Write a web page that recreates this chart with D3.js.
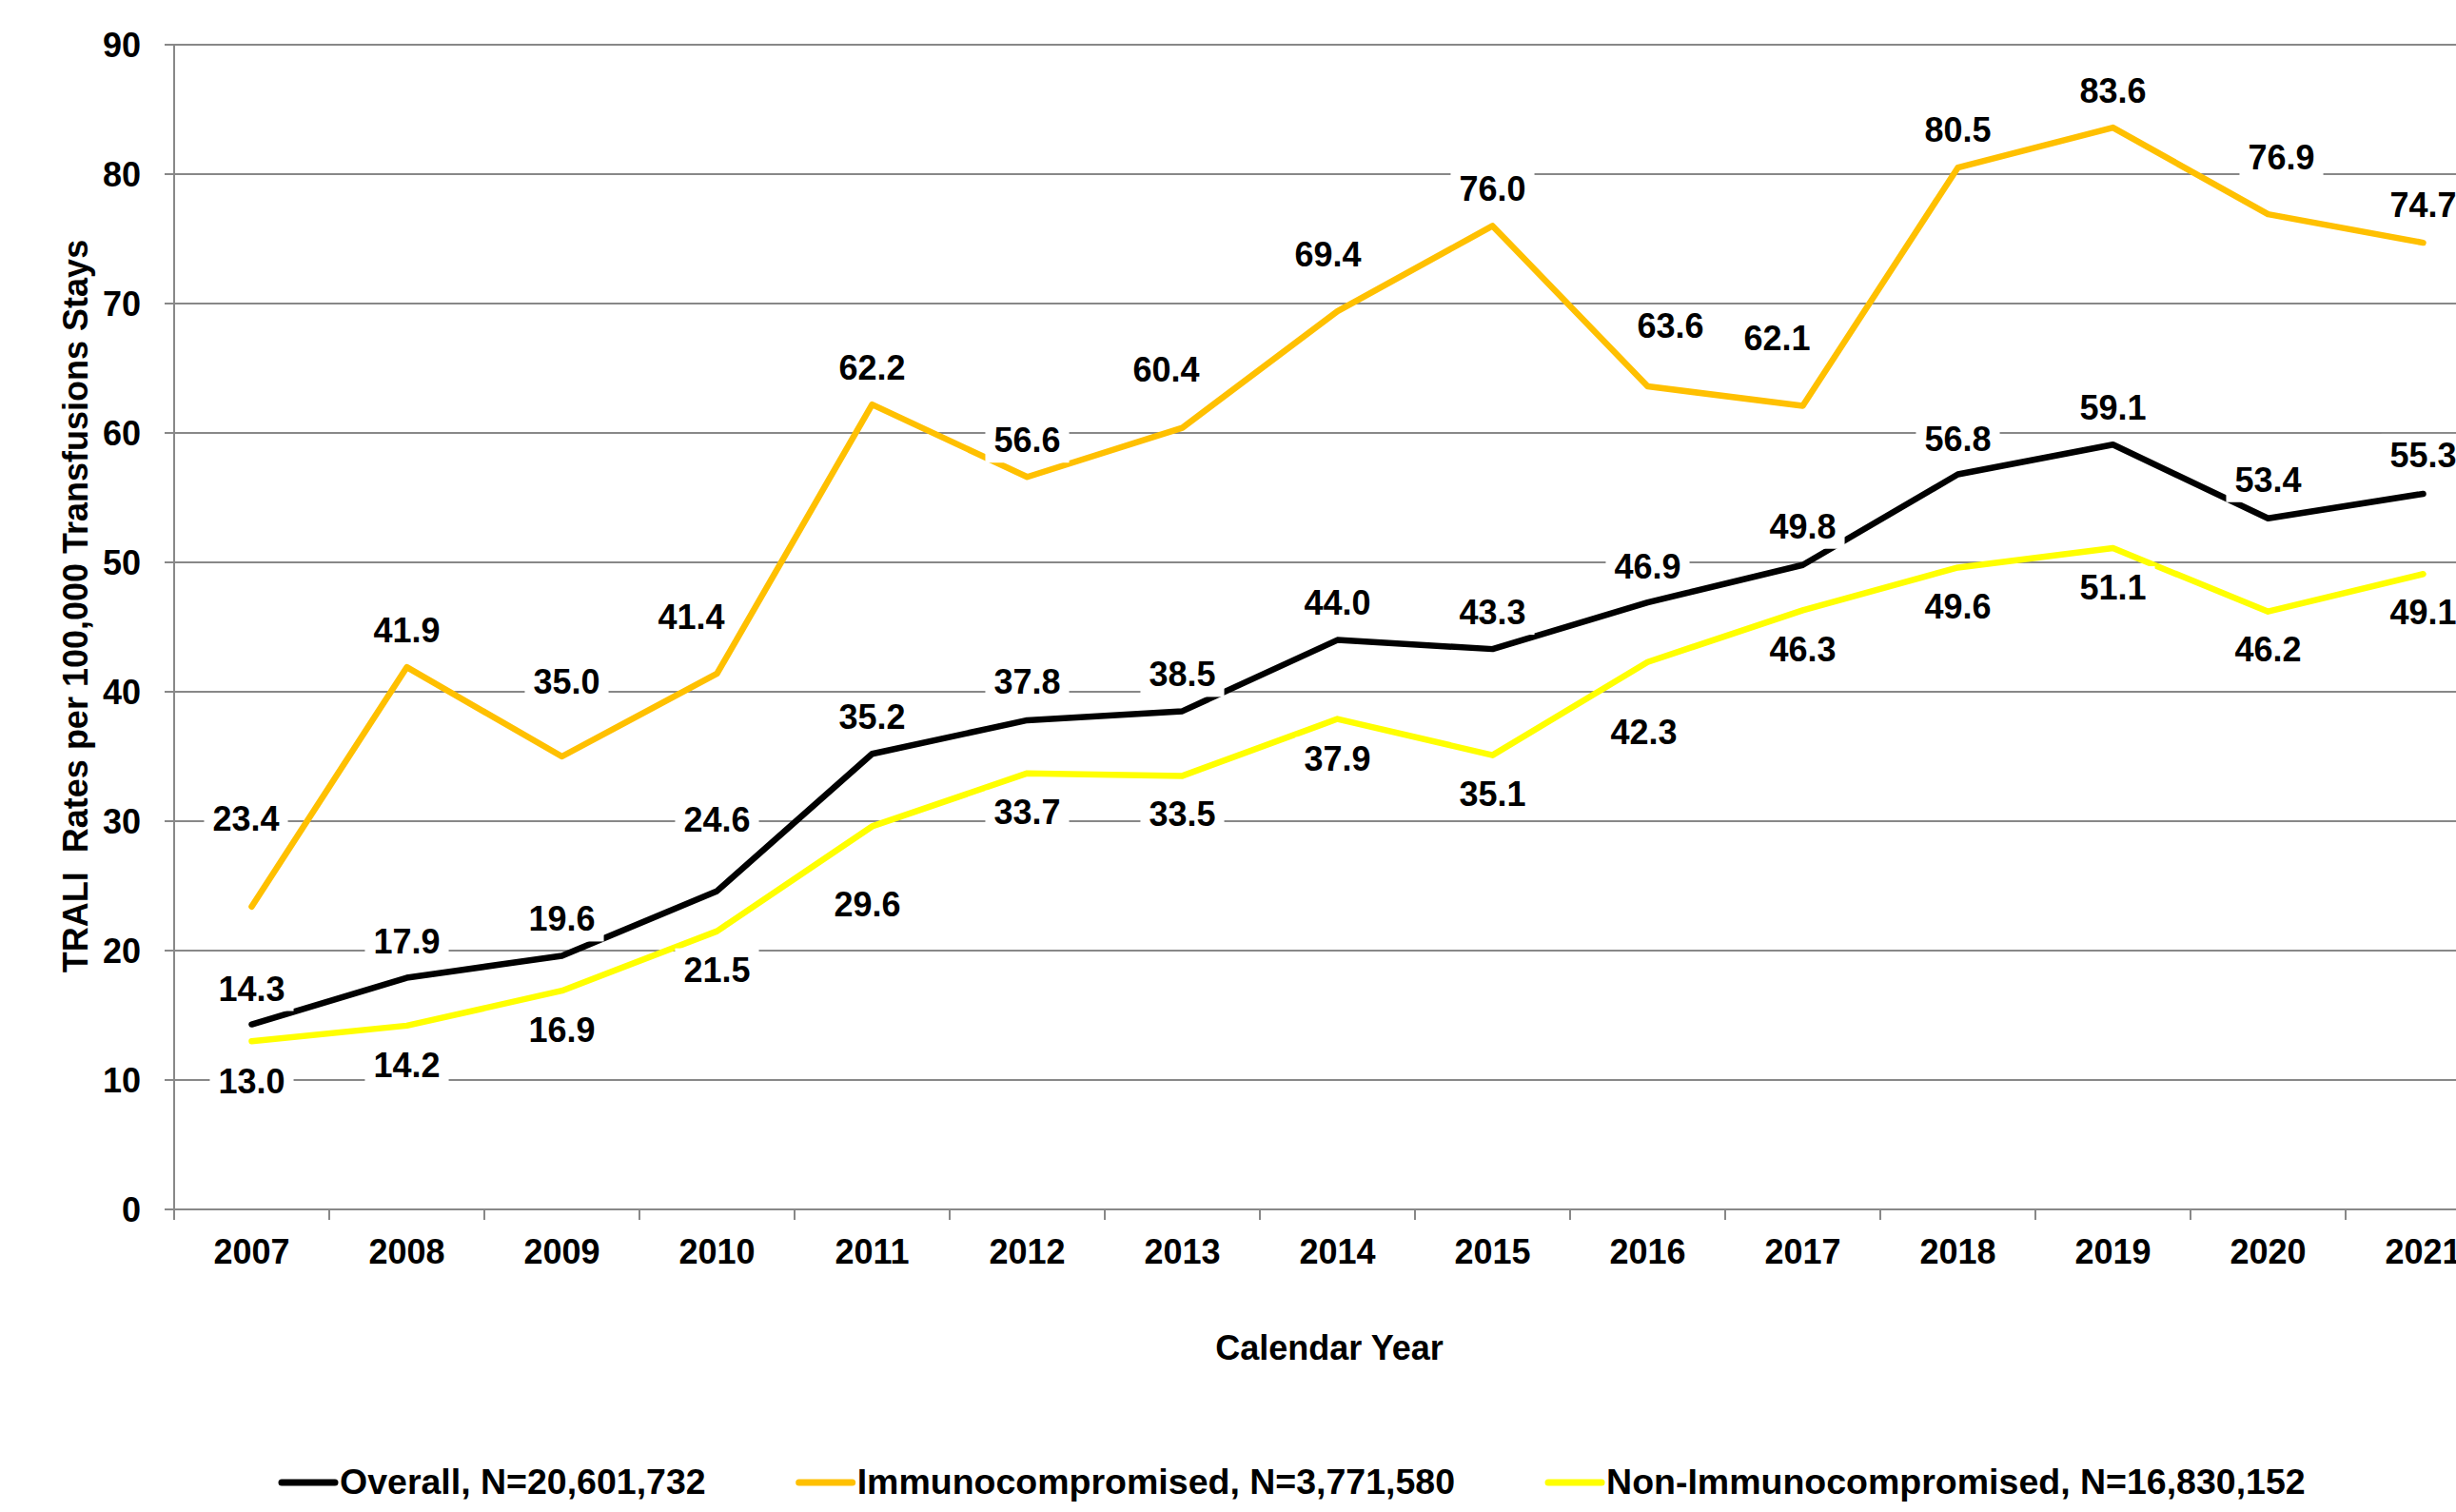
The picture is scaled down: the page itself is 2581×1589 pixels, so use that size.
<!DOCTYPE html>
<html>
<head>
<meta charset="utf-8">
<script src="https://cdn.jsdelivr.net/npm/d3@7"></script>
<style>
  html, body { margin: 0; padding: 0; background: #fff; }
  svg { display: block; }
  text { font-family: "Liberation Sans", Arial, Helvetica, sans-serif; font-weight: bold; fill: #000; }
</style>
</head>
<body>
<svg id="chart" width="2581" height="1589"></svg>
<script>
// Calendar years on the x axis
const years = ["2007","2008","2009","2010","2011","2012","2013","2014","2015","2016","2017","2018","2019","2020","2021"];

// TRALI rates per 100,000 transfusion stays
const overall   = [14.3, 17.9, 19.6, 24.6, 35.2, 37.8, 38.5, 44.0, 43.3, 46.9, 49.8, 56.8, 59.1, 53.4, 55.3];
const immuno    = [23.4, 41.9, 35.0, 41.4, 62.2, 56.6, 60.4, 69.4, 76.0, 63.6, 62.1, 80.5, 83.6, 76.9, 74.7];
const nonImmuno = [13.0, 14.2, 16.9, 21.5, 29.6, 33.7, 33.5, 37.9, 35.1, 42.3, 46.3, 49.6, 51.1, 46.2, 49.1];

const yTicks = [0, 10, 20, 30, 40, 50, 60, 70, 80, 90];

const seriesNames = [
  "Overall, N=20,601,732",
  "Immunocompromised, N=3,771,580",
  "Non-Immunocompromised, N=16,830,152"
];
const seriesColors = ["#000000", "#FFC000", "#FFFF00"];

// Per-point label placement: [dx, dy] from the point to the label centre
const overallLabelShift = [[0,-38],[0,-39],[0,-39],[0,-75],[0,-39],[0,-41],[0,-39],[0,-40],[0,-39],[0,-38],[0,-41],[0,-38],[0,-39],[0,-41],[0,-41]];
const immunoLabelShift  = [[-6,-93],[0,-39],[5,-79],[-27,-60],[0,-39],[0,-39],[-17,-62],[-10,-60],[0,-39],[24,-64],[-27,-71],[0,-40],[0,-39],[14,-60],[0,-40]];
const nonLabelShift     = [[0,42],[0,41],[0,41],[0,40],[-5,82],[0,40],[0,40],[0,41],[0,40],[-4,73],[0,41],[0,41],[0,41],[0,39],[0,40]];

const series = [
  { name: seriesNames[0], color: seriesColors[0], values: overall,   shift: overallLabelShift },
  { name: seriesNames[1], color: seriesColors[1], values: immuno,    shift: immunoLabelShift },
  { name: seriesNames[2], color: seriesColors[2], values: nonImmuno, shift: nonLabelShift }
];

const svg = d3.select("#chart");
svg.append("rect").attr("width", 2581).attr("height", 1589).attr("fill", "#fff");

const plot = { left: 183, right: 2628, top: 47, bottom: 1271 };
const fontSize = 36;
const legendFontSize = 37.5;
const gridColor = "#888888";

const x = d3.scaleBand().domain(years).range([plot.left, plot.right]).padding(0);
const y = d3.scaleLinear().domain([0, 90]).range([plot.bottom, plot.top]);
const cx = (i) => x(years[i]) + x.bandwidth() / 2;

// Horizontal gridlines, each with its short tick left of the axis
svg.append("g").selectAll("line").data(yTicks).join("line")
  .attr("x1", plot.left - 10).attr("x2", plot.right)
  .attr("y1", d => y(d)).attr("y2", d => y(d))
  .attr("stroke", gridColor).attr("stroke-width", 2);

// Y axis line and tick labels
svg.append("line")
  .attr("x1", plot.left).attr("x2", plot.left)
  .attr("y1", plot.top).attr("y2", plot.bottom)
  .attr("stroke", gridColor).attr("stroke-width", 2);

svg.append("g").selectAll("text").data(yTicks).join("text")
  .attr("x", plot.left - 35)
  .attr("y", d => y(d) + 13)
  .attr("text-anchor", "end")
  .style("font-size", fontSize + "px")
  .text(d => d);

// X axis: ticks on the category boundaries, labels centred in each band
const boundaries = years.map(yr => x(yr)).concat([plot.right]);
svg.append("g").selectAll("line").data(boundaries).join("line")
  .attr("x1", d => d).attr("x2", d => d)
  .attr("y1", plot.bottom).attr("y2", plot.bottom + 11)
  .attr("stroke", gridColor).attr("stroke-width", 2);

svg.append("g").selectAll("text").data(years).join("text")
  .attr("x", (d, i) => cx(i))
  .attr("y", 1328)
  .attr("text-anchor", "middle")
  .style("font-size", fontSize + "px")
  .text(d => d);

// Axis titles
svg.append("text")
  .attr("x", 1397).attr("y", 1429)
  .attr("text-anchor", "middle")
  .style("font-size", fontSize + "px")
  .text("Calendar Year");

svg.append("text")
  .attr("transform", "translate(92,637) rotate(-90)")
  .attr("text-anchor", "middle")
  .style("font-size", fontSize + "px")
  .style("white-space", "pre")
  .attr("xml:space", "preserve")
  .text("TRALI  Rates per 100,000 Transfusions Stays");

// Series lines
const line = d3.line()
  .x((d, i) => cx(i))
  .y(d => y(d));

svg.append("g").selectAll("path").data(series).join("path")
  .attr("d", s => line(s.values))
  .attr("fill", "none")
  .attr("stroke", s => s.color)
  .attr("stroke-width", 6.5)
  .attr("stroke-linejoin", "round")
  .attr("stroke-linecap", "round");

// Data labels on white boxes, drawn above all lines
const labelLayer = svg.append("g");
series.forEach(s => {
  s.values.forEach((v, i) => {
    const lx = cx(i) + s.shift[i][0];
    const ly = y(v) + s.shift[i][1];
    const g = labelLayer.append("g");
    const rect = g.append("rect").attr("fill", "#fff");
    const t = g.append("text")
      .attr("x", lx).attr("y", ly + 13)
      .attr("text-anchor", "middle")
      .style("font-size", fontSize + "px")
      .text(v.toFixed(1));
    const w = t.node().getComputedTextLength();
    rect.attr("x", lx - w / 2 - 9).attr("width", w + 18)
      .attr("y", ly - 22).attr("height", 46);
  });
});

// Legend along the bottom
const legend = svg.append("g");
let lx = 296;
const legendY = 1558;
series.forEach(s => {
  legend.append("line")
    .attr("x1", lx).attr("x2", lx + 56)
    .attr("y1", legendY).attr("y2", legendY)
    .attr("stroke", s.color).attr("stroke-width", 7)
    .attr("stroke-linecap", "round");
  const t = legend.append("text")
    .attr("x", lx + 61).attr("y", legendY + 12)
    .style("font-size", legendFontSize + "px")
    .text(s.name);
  lx += 61 + t.node().getComputedTextLength() + 98;
});
</script>
</body>
</html>
